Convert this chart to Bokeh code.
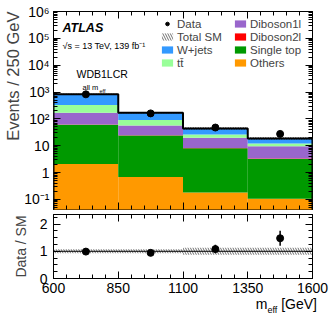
import numpy as np
from bokeh.plotting import figure
from bokeh.layouts import column
from bokeh.models import (Range1d, FixedTicker, CustomJSTickFormatter, LinearAxis, LogAxis,
                          Label, Legend, LegendItem, Span, Title, Div)
from bokeh.embed import file_html
from bokeh.resources import INLINE

# ---------------- data ----------------
bin_edges = [600, 850, 1100, 1350, 1600]
x_ticks = [600, 850, 1100, 1350, 1600]
x_tick_labels = ["600", "850", "1100", "1350", "1600"]
others = [2.1, 0.68, 0.18, 0.105]
single_top = [58.0, 23.3, 7.9, 3.1]
diboson2l = [2.0, 0.6, 0.2, 0.1]
diboson1l = [108.0, 32.4, 11.3, 6.3]
ttbar = [160.0, 33.0, 6.4, 2.4]
wjets = [500.0, 80.0, 18.0, 6.6]
data = [820.0, 160.0, 47.5, 27.5]
data_err = [29.0, 12.6, 6.9, 5.2]
sm_rel_unc = [0.07, 0.07, 0.13, 0.13]

FONT = "Liberation Sans"
TT = "tt\u0304"
edges = np.array(bin_edges, dtype=float)
centers = (edges[:-1] + edges[1:]) / 2
layers = [("Others", others, "#FF9900"), ("Single top", single_top, "#009900"),
          ("Diboson2l", diboson2l, "#FF0000"), ("Diboson1l", diboson1l, "#9966CC"),
          (TT, ttbar, "#99FF99"), ("W+jets", wjets, "#3399FF")]


def style_axis(ax, labels=True, standoff=4, size="14px"):
    ax.axis_line_color = None
    ax.major_tick_in = 7
    ax.major_tick_out = 0
    ax.minor_tick_in = 4
    ax.minor_tick_out = 0
    ax.major_tick_line_color = "black"
    ax.minor_tick_line_color = "black"
    if labels:
        ax.major_label_text_font = FONT
        ax.major_label_text_font_size = size
        ax.major_label_text_color = "black"
        ax.major_label_standoff = standoff
    else:
        ax.major_label_text_font_size = "1px"
        ax.major_label_text_alpha = 0
        ax.major_label_standoff = 0


xr = Range1d(600, 1600)
p1 = figure(frame_width=259, frame_height=198, x_range=xr, y_range=Range1d(0.042, 1e6),
            y_axis_type="log", output_backend="svg", toolbar_location=None,
            min_border_left=53, min_border_right=20, min_border_top=11, min_border_bottom=2)
p1.outline_line_color = "black"
p1.outline_line_width = 1
p1.grid.visible = False

xticker = FixedTicker(ticks=x_ticks, minor_ticks=[600 + 50 * i for i in range(21)])
yticker = FixedTicker(ticks=[10.0 ** k for k in range(-1, 7)],
                      minor_ticks=[m * 10.0 ** k for k in range(-2, 6) for m in range(2, 10)])
yfmt = CustomJSTickFormatter(code="""
const e = Math.round(Math.log10(tick));
if (e == 0) return "1";
if (e == 1) return "10";
const sup = {"-":"\u207b","0":"\u2070","1":"\u00b9","2":"\u00b2","3":"\u00b3","4":"\u2074",
             "5":"\u2075","6":"\u2076","7":"\u2077","8":"\u2078","9":"\u2079"};
return "10" + String(e).split("").map(c => sup[c]).join("");
""")

p1.yaxis.ticker = yticker
p1.yaxis.formatter = yfmt
style_axis(p1.yaxis[0], labels=True, standoff=4)
p1.xaxis.ticker = xticker
style_axis(p1.xaxis[0], labels=False)
ax_r = LogAxis(ticker=yticker)
style_axis(ax_r, labels=False)
p1.add_layout(ax_r, "right")
ax_t = LinearAxis(ticker=xticker)
style_axis(ax_t, labels=False)
p1.add_layout(ax_t, "above")
p1.add_layout(Title(text="Events / 250 GeV", align="right", text_font=FONT, text_font_size="16.5px",
                    text_font_style="normal", standoff=0, offset=0), "left")

# stacked histogram
base = np.full(len(centers), 1e-4)
rends = {}
for name, vals, col in layers:
    top = base + np.array(vals)
    rends[name] = p1.quad(left=edges[:-1], right=edges[1:], bottom=base, top=top,
                          fill_color=col, line_color=None)
    base = top
total = base
unc = np.array(sm_rel_unc)

band1 = p1.quad(left=edges[:-1], right=edges[1:], bottom=total * (1 - unc), top=total * (1 + unc),
                fill_color=None, line_color=None, hatch_pattern="\\", hatch_color="#333333",
                hatch_weight=0.7, hatch_scale=5)
ox = np.repeat(edges, 2)
oy = np.concatenate([[1e-4], np.repeat(total, 2), [1e-4]])
p1.line(ox, oy, line_color="black", line_width=2)

d = np.array(data)
de = np.array(data_err)
p1.segment(x0=centers, y0=d - de, x1=centers, y1=d + de, line_color="black", line_width=1.5)
data_r = p1.scatter(centers, d, size=7, color="black")

# legends
leg_common = dict(glyph_width=14, glyph_height=9, label_height=13, spacing=0, label_standoff=3,
                  padding=0, margin=0, border_line_color=None, background_fill_alpha=0,
                  label_text_font=FONT, label_text_font_size="11.5px")
leg1 = Legend(items=[LegendItem(label="Data", renderers=[data_r]),
                     LegendItem(label="Total SM", renderers=[band1]),
                     LegendItem(label="W+jets", renderers=[rends["W+jets"]]),
                     LegendItem(label=TT, renderers=[rends[TT]])],
              location=(107, 140), **leg_common)
leg2 = Legend(items=[LegendItem(label="Diboson1l", renderers=[rends["Diboson1l"]]),
                     LegendItem(label="Diboson2l", renderers=[rends["Diboson2l"]]),
                     LegendItem(label="Single top", renderers=[rends["Single top"]]),
                     LegendItem(label="Others", renderers=[rends["Others"]])],
              location=(180, 140), **leg_common)
p1.add_layout(leg1)
p1.add_layout(leg2)


def lab(p, text, x, y, dx, dy, size, **kw):
    p.add_layout(Label(x=x, y=y, x_offset=dx, y_offset=dy, text=text, text_font=FONT,
                       text_font_size=size, text_color="black", **kw))


lab(p1, "ATLAS", 600, 1e6, 9, -16, "12.5px", text_font_style="bold italic", text_baseline="middle")
lab(p1, "\u221as = 13 TeV, 139 fb\u207b\u00b9", 600, 1e6, 9, -34, "9px", text_baseline="middle")
lab(p1, "WDB1LCR", 600, 1e6, 23, -62, "10.5px", text_baseline="middle")
lab(p1, "all m", 600, 1e6, 29, -76, "7.5px", text_baseline="middle")
lab(p1, "eff", 600, 1e6, 46, -79, "5.5px", text_baseline="middle")

# ---------------- ratio panel ----------------
p2 = figure(frame_width=259, frame_height=64, x_range=xr, y_range=Range1d(0, 2.35),
            output_backend="svg", toolbar_location=None,
            min_border_left=53, min_border_right=20, min_border_top=3, min_border_bottom=18)
p2.outline_line_color = "black"
p2.outline_line_width = 1
p2.grid.visible = False
p2.xaxis.ticker = xticker
p2.xaxis.major_label_overrides = {v: s for v, s in zip(x_ticks, x_tick_labels)}
style_axis(p2.xaxis[0], labels=True, standoff=4)
rticker = FixedTicker(ticks=[0, 1, 2], minor_ticks=[0.25 * i for i in range(10)])
p2.yaxis.ticker = rticker
style_axis(p2.yaxis[0], labels=True, standoff=6)
ax_r2 = LinearAxis(ticker=rticker)
style_axis(ax_r2, labels=False)
p2.add_layout(ax_r2, "right")
ax_t2 = LinearAxis(ticker=xticker)
style_axis(ax_t2, labels=False)
p2.add_layout(ax_t2, "above")
p2.add_layout(Title(text="Data / SM", align="center", text_font=FONT, text_font_size="14px",
                    text_font_style="normal", standoff=16, offset=0), "left")

p2.quad(left=edges[:-1], right=edges[1:], bottom=1 - unc, top=1 + unc, fill_color=None,
        line_color=None, hatch_pattern="\\", hatch_color="#333333", hatch_weight=0.7, hatch_scale=5)
p2.add_layout(Span(location=1, dimension="width", line_color="black", line_width=1))
ratio = d / total
rerr = de / total
p2.segment(x0=centers, y0=ratio - rerr, x1=centers, y1=ratio + rerr, line_color="black", line_width=1.5)
p2.scatter(centers, ratio, size=7, color="black")

xtitle = Div(text="m<sub style='font-size:9px'>eff</sub> [GeV]", width=312, height=16,
             styles={"text-align": "right", "font-family": FONT, "font-size": "14px",
                     "line-height": "14px", "color": "black", "margin-top": "1px"})

layout = column(p1, p2, xtitle, spacing=0)
open("out.html", "w").write(file_html(layout, INLINE))
